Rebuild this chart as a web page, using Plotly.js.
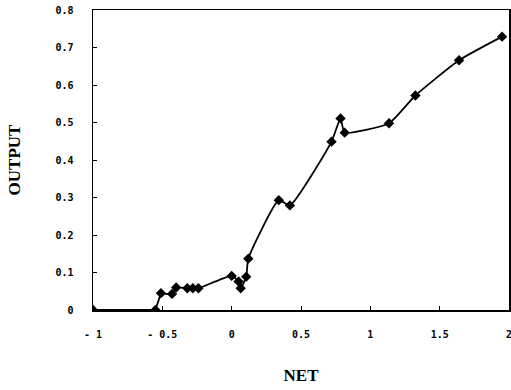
<!DOCTYPE html>
<html>
<head>
<meta charset="utf-8">
<script src="https://cdn.plot.ly/plotly-3.0.1.min.js"></script>
<style>html,body{margin:0;padding:0;background:#fff;}#chart{width:511px;height:390px;}</style>
</head>
<body>
<div id="chart"></div>
<script>
const netValues = [-1.0, -0.55, -0.51, -0.43, -0.40, -0.32, -0.28, -0.24, 0.0, 0.05, 0.065, 0.105, 0.12, 0.34, 0.42, 0.72, 0.785, 0.815, 1.135, 1.325, 1.64, 1.95];
const outputValues = [0.0, 0.0, 0.045, 0.043, 0.06, 0.058, 0.058, 0.058, 0.091, 0.076, 0.058, 0.089, 0.137, 0.293, 0.279, 0.449, 0.511, 0.473, 0.498, 0.572, 0.666, 0.729];
const xTickVals = [-1, -0.5, 0, 0.5, 1, 1.5, 2];
const xTickText = ['- 1', '- 0.5', '0', '0.5', '1', '1.5', '2'];
const yTickVals = [0, 0.1, 0.2, 0.3, 0.4, 0.5, 0.6, 0.7, 0.8];
const yTickText = ['0', '0.1', '0.2', '0.3', '0.4', '0.5', '0.6', '0.7', '0.8'];

// first step segment drawn straight (flat baseline + vertical jump), remainder smoothed
const split = 3;
const stepTrace = {
  x: netValues.slice(0, split),
  y: outputValues.slice(0, split),
  type: 'scatter', mode: 'lines',
  line: {color: '#000', width: 1.8, shape: 'linear'},
  hoverinfo: 'none'
};
const curveTrace = {
  x: netValues.slice(split - 1),
  y: outputValues.slice(split - 1),
  type: 'scatter', mode: 'lines',
  line: {color: '#000', width: 1.8, shape: 'spline', smoothing: 0.5},
  hoverinfo: 'none'
};
const markerTrace = {
  x: netValues, y: outputValues,
  type: 'scatter', mode: 'markers',
  marker: {symbol: 'diamond', size: 8, color: '#000'},
  hoverinfo: 'none'
};

const tickFont = {family: 'DejaVu Sans Mono', size: 10, color: '#000', weight: 'bold'};
const titleFont = {family: 'Liberation Serif', size: 17, color: '#000', weight: 'bold'};
const layout = {
  width: 511, height: 390,
  margin: {l: 93, r: 2, t: 10, b: 80},
  paper_bgcolor: '#fff', plot_bgcolor: '#fff',
  showlegend: false,
  xaxis: {
    range: [-1, 2],
    tickvals: xTickVals, ticktext: xTickText,
    tickfont: tickFont,
    ticks: 'inside', ticklen: 4, tickcolor: '#000',
    showgrid: false, zeroline: false,
    showline: true, linecolor: '#000', linewidth: 1.5, mirror: true,
    ticklabelstandoff: 14,
    ticklabeloverflow: 'allow',
    title: {text: 'NET', font: titleFont, standoff: 30}
  },
  yaxis: {
    range: [0, 0.8],
    tickvals: yTickVals, ticktext: yTickText,
    tickfont: tickFont,
    ticks: 'inside', ticklen: 4, tickcolor: '#000',
    showgrid: false, zeroline: false,
    showline: true, linecolor: '#000', linewidth: 1.5, mirror: true,
    ticklabelstandoff: 16,
    ticklabeloverflow: 'allow',
    title: {text: 'OUTPUT', font: titleFont, standoff: 30}
  }
};

Plotly.newPlot('chart', [stepTrace, curveTrace, markerTrace], layout, {displayModeBar: false, staticPlot: true});
</script>
</body>
</html>
